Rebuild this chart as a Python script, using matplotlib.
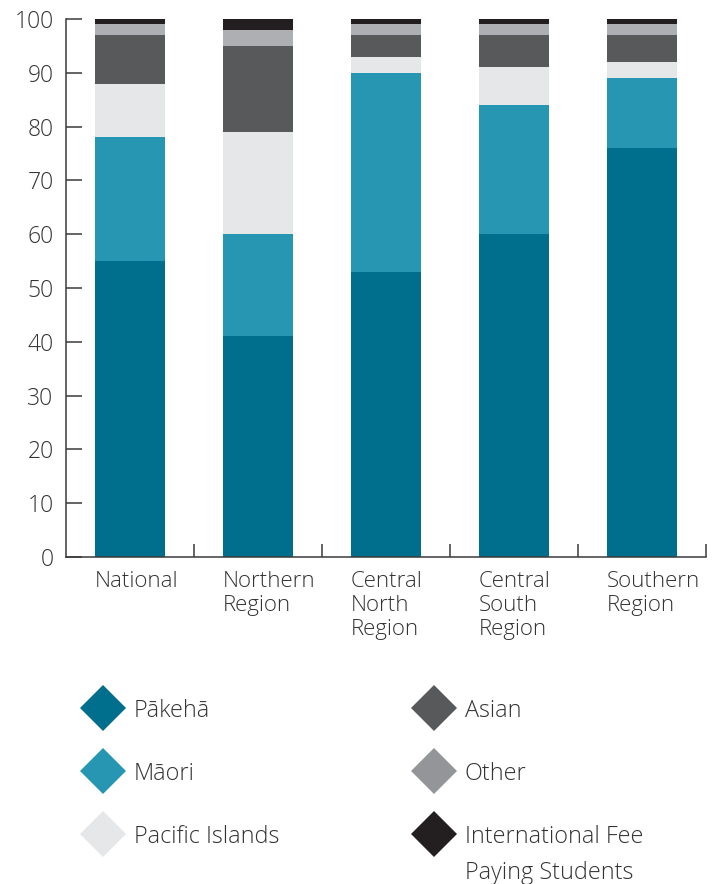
import matplotlib
matplotlib.use("Agg")
import matplotlib.pyplot as plt
import numpy as np

plt.rcParams['font.family'] = ['Open Sans', 'DejaVu Sans']
plt.rcParams['font.weight'] = 'light'

regions = ["National", "Northern\nRegion", "Central\nNorth\nRegion",
           "Central\nSouth\nRegion", "Southern\nRegion"]
groups = ["Pākehā", "Māori", "Pacific Islands", "Asian", "Other",
          "International Fee\nPaying Students"]

pakeha = [55, 41, 53, 60, 76]
maori = [23, 19, 37, 24, 13]
pacific = [10, 19, 3, 7, 3]
asian = [9, 16, 4, 6, 5]
other = [2, 3, 2, 2, 2]
intl = [1, 2, 1, 1, 1]
series = [pakeha, maori, pacific, asian, other, intl]

bar_colors = ["#006f8e", "#2796b3", "#e6e7e8", "#58595b", "#adafb2", "#231f20"]
key_colors = ["#006f8e", "#2796b3", "#e6e7e8", "#58595b", "#939598", "#231f20"]

W, H = 718, 884
fig = plt.figure(figsize=(W / 100, H / 100), dpi=100)
ax = fig.add_axes([66 / W, (H - 557) / H, (706 - 66) / W, (557 - 19) / H])

x = np.arange(len(regions))
width = 0.55
bottom = np.zeros(len(regions))
for vals, col in zip(series, bar_colors):
    ax.bar(x, vals, width, bottom=bottom, color=col, linewidth=0)
    bottom += vals

ax.set_xlim(-0.5, len(regions) - 0.5)
ax.set_ylim(0, 100)
ax.set_yticks(range(0, 101, 10))
ax.set_xticks(x - width / 2)
ax.set_xticklabels(regions, ha='left', va='top', linespacing=1.2)
ax.set_xticks(np.arange(0.5, len(regions), 1), minor=True)

txt = "#333333"
for s in ['top', 'right']:
    ax.spines[s].set_visible(False)
for s in ['left', 'bottom']:
    ax.spines[s].set_color("#3a3a3a")
    ax.spines[s].set_linewidth(1.1)
ax.tick_params(axis='y', direction='in', length=11.5, width=1.1, color="#3a3a3a",
               labelsize=16.5, labelcolor=txt, pad=9)
ax.tick_params(axis='x', which='major', length=0, labelsize=16, labelcolor=txt, pad=10)
ax.tick_params(axis='x', which='minor', direction='in', length=9.5, width=1.1,
               color="#3a3a3a")

# key below the chart, drawn in pixel coordinates
leg = fig.add_axes([0, 0, 1, 1])
leg.set_xlim(0, W)
leg.set_ylim(H, 0)
leg.axis('off')
col_x = [103, 434]
row_y = [708, 771, 834]
for i, (name, col) in enumerate(zip(groups, key_colors)):
    cx = col_x[i // 3]
    cy = row_y[i % 3]
    leg.plot([cx], [cy], marker='D', markersize=23.4, color=col, mew=0)
    leg.text(cx + 31, cy - 9, name, fontsize=16.8, color=txt, ha='left',
             va='top', linespacing=1.65)

fig.savefig("out.png", dpi=100)
